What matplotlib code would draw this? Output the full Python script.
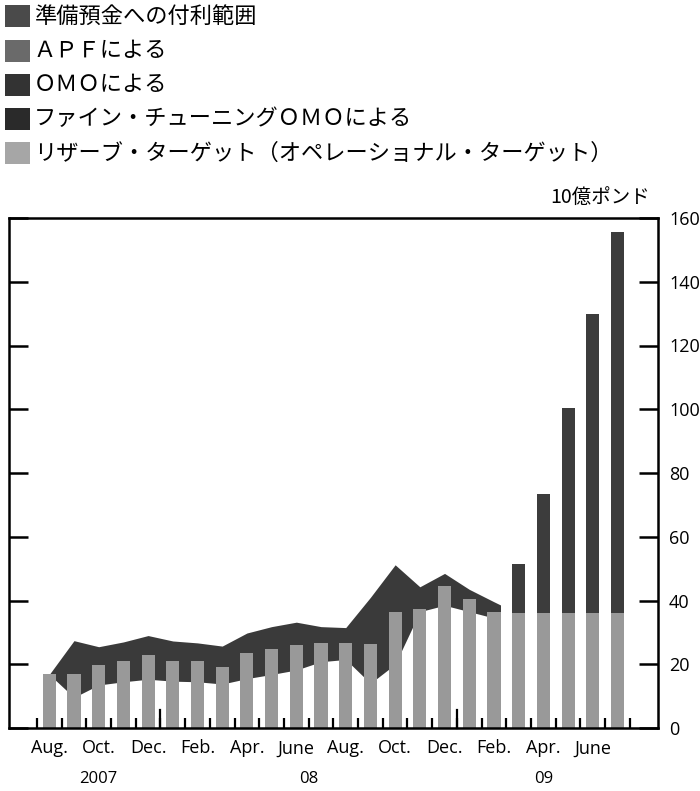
import matplotlib
matplotlib.use("Agg")
import matplotlib.pyplot as plt
from matplotlib.patches import Rectangle
import numpy as np

# ---------------- data ----------------
months = ["Aug.", "Sep.", "Oct.", "Nov.", "Dec.", "Jan.", "Feb.", "Mar.", "Apr.", "May", "June", "July",
          "Aug.", "Sep.", "Oct.", "Nov.", "Dec.", "Jan.", "Feb.", "Mar.", "Apr.", "May", "June", "July"]
reserve_target = [16.8, 17.0, 19.8, 21.0, 22.9, 21.0, 21.0, 19.0, 23.6, 24.9, 26.1, 26.8,
                  26.8, 26.2, 36.5, 37.2, 44.7, 40.4, 36.5, 36.0, 36.0, 36.0, 36.0, 36.0]
apf = [0, 0, 0, 0, 0, 0, 0, 0, 0, 0, 0, 0,
       0, 0, 0, 0, 0, 0, 0, 15.6, 37.4, 64.3, 94.0, 119.6]
band_upper = [16.8, 27.4, 25.5, 27.0, 29.0, 27.3, 26.7, 25.7, 29.8, 31.8, 33.2, 31.8,
              31.5, 41.0, 51.2, 44.3, 48.5, 43.5, 39.6]
band_lower = [16.8, 9.6, 13.5, 14.5, 15.3, 14.7, 14.5, 13.8, 15.5, 16.8, 18.2, 20.8,
              21.5, 14.0, 20.0, 36.5, 38.5, 36.5, 34.5]
shown_month_labels = ["Aug.", "Oct.", "Dec.", "Feb.", "Apr.", "June",
                      "Aug.", "Oct.", "Dec.", "Feb.", "Apr.", "June"]
year_labels = ["2007", "08", "09"]
year_label_pos = [2, 10.5, 20]
yticks = [0, 20, 40, 60, 80, 100, 120, 140, 160]

legend_labels = ["準備預金への付利範囲",
                 "ＡＰＦによる",
                 "ＯＭＯによる",
                 "ファイン・チューニングＯＭＯによる",
                 "リザーブ・ターゲット（オペレーショナル・ターゲット）"]
legend_colors = ["#4a4a4a", "#6a6a6a", "#333333", "#2a2a2a", "#a6a6a6"]

# ---------------- figure ----------------
W, H = 700, 791
fig = plt.figure(figsize=(W / 100, H / 100), dpi=100)
fig.patch.set_facecolor("white")

cjk = ["Noto Sans CJK JP", "DejaVu Sans"]
latin = ["Open Sans", "DejaVu Sans"]

ax_left, ax_right, ax_top, ax_bottom = 9, 658, 218, 728
ax = fig.add_axes([ax_left / W, 1 - ax_bottom / H, (ax_right - ax_left) / W, (ax_bottom - ax_top) / H])

x = np.arange(len(months))
bw = 0.53

# band of remuneration range (behind bars)
xb = np.arange(len(band_upper)).astype(float)
xb_ext = np.append(xb, xb[-1] + bw / 2)
up_ext = np.append(band_upper, band_upper[-1] - 1.0)
lo_ext = np.append(band_lower, band_lower[-1])
ax.fill_between(xb_ext, lo_ext, up_ext, color="#3a3a3a", linewidth=0, zorder=1)

ax.bar(x, reserve_target, width=bw, color="#999999", linewidth=0, zorder=2)
ax.bar(x, apf, width=bw, bottom=reserve_target, color="#3c3c3c", linewidth=0, zorder=2)

ax.set_xlim(-1.63, len(months) - 1 + 1.64)
ax.set_ylim(0, 160)

for s in ax.spines.values():
    s.set_linewidth(1.8)
    s.set_color("black")

# y ticks: right labels, inward ticks on both sides
ax.yaxis.tick_right()
ax.set_yticks(yticks)
ax.set_yticklabels([str(v) for v in yticks], fontfamily=latin, fontsize=13)
ax.tick_params(axis="y", which="both", direction="in", length=14, width=1.8,
               left=True, right=True, labelleft=False, labelright=True, pad=8)

# x ticks: boundaries between months, taller at year boundaries
boundaries = np.arange(len(months) + 1) - 0.5
ax.set_xticks(boundaries)
ax.set_xticklabels([])
ax.tick_params(axis="x", which="major", direction="in", length=7, width=1.6, bottom=True, top=False)
year_bounds = [i - 0.5 for i, m in enumerate(months) if m == "Jan."]
for yb in year_bounds:
    ax.plot([yb, yb], [0, 5.5], color="black", linewidth=1.6, zorder=3, clip_on=False)

trans = ax.get_xaxis_transform()
shown_idx = list(range(0, len(months), 2))
for i, lab in zip(shown_idx, shown_month_labels):
    ax.text(i, -0.04, lab, transform=trans, ha="center", va="center",
            fontfamily=latin, fontsize=13)
for p, lab in zip(year_label_pos, year_labels):
    ax.text(p, -0.1, lab, transform=trans, ha="center", va="center",
            fontfamily=latin, fontsize=12)

# unit label
fig.text(650 / W, 1 - 197 / H, "10億ポンド", ha="right", va="center", fontfamily=cjk, fontsize=14)

# legend (manual)
row_y = [16, 51, 85, 119, 153]
for yy, lab, col in zip(row_y, legend_labels, legend_colors):
    fig.add_artist(Rectangle((5 / W, 1 - (yy + 11) / H), 25 / W, 22 / H,
                             transform=fig.transFigure, facecolor=col, edgecolor="none"))
    fig.text(34 / W, 1 - yy / H, lab, ha="left", va="center", fontfamily=cjk, fontsize=16)

fig.savefig("out.png", dpi=100, facecolor="white")
